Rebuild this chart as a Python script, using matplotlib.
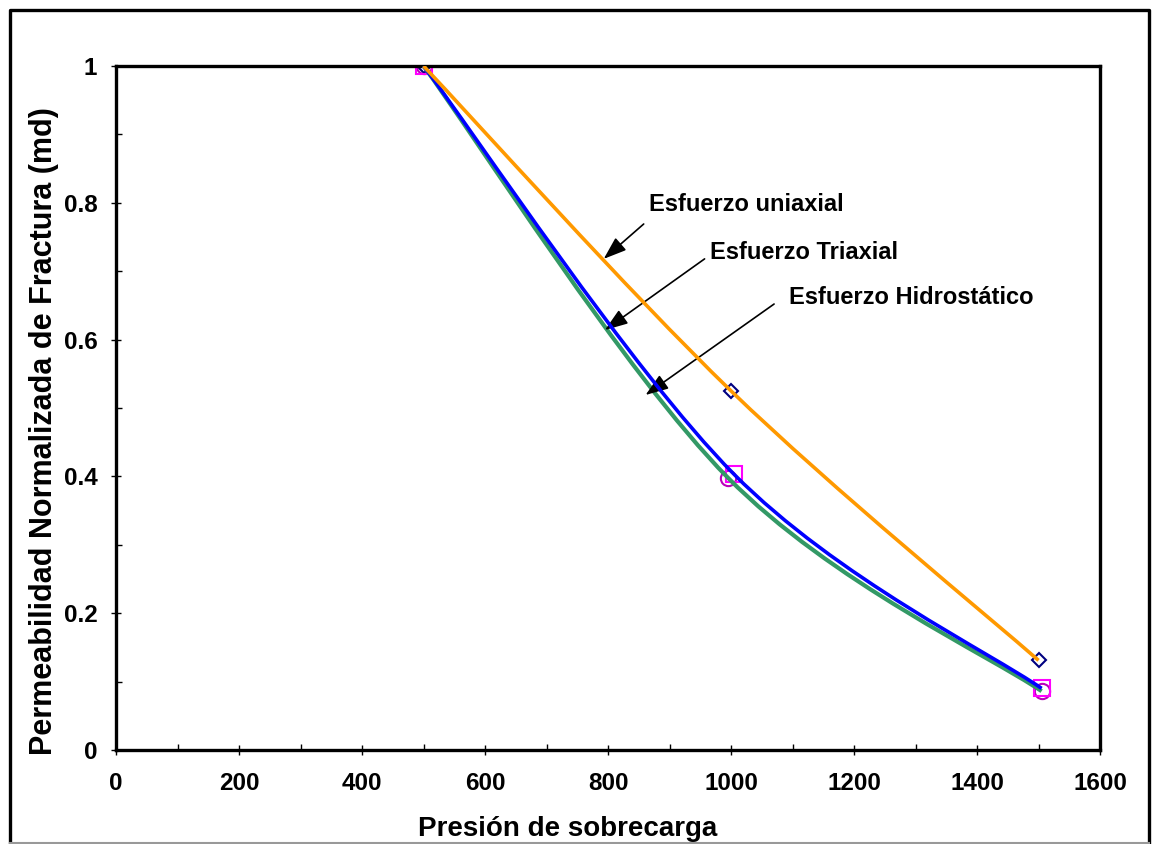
import numpy as np
import matplotlib.pyplot as plt
from matplotlib.path import Path
from matplotlib.patches import PathPatch
from matplotlib.lines import Line2D
from matplotlib.ticker import MultipleLocator, FuncFormatter

plt.rcParams['font.family'] = ['Liberation Sans', 'DejaVu Sans']
plt.rcParams['font.weight'] = 'bold'

# data
uni_x = [500, 1000, 1500]
uni_y = [1.0, 0.525, 0.131]
tri_x = [500, 1005, 1505]
tri_y = [1.0, 0.403, 0.090]
hid_x = [500, 995, 1505]
hid_y = [1.0, 0.398, 0.086]

labels = ["Esfuerzo uniaxial", "Esfuerzo Triaxial", "Esfuerzo Hidrostático"]
label_xy = [(866, 0.797), (965, 0.728), (1095, 0.662)]
arrow_tail = [(858, 0.769), (957, 0.718), (1070, 0.652)]
arrow_head = [(793, 0.718), (795, 0.614), (861, 0.519)]


def smooth_path(xs, ys):
    # excel style smoothed line: cubic bezier, catmull-rom tangents
    pts = np.column_stack([xs, ys]).astype(float)
    n = len(pts)
    verts = [pts[0]]
    codes = [Path.MOVETO]
    for i in range(n - 1):
        p_prev = pts[max(i - 1, 0)]
        p0, p1 = pts[i], pts[i + 1]
        p_next = pts[min(i + 2, n - 1)]
        c1 = p0 + (p1 - p_prev) / 6.0
        c2 = p1 - (p_next - p0) / 6.0
        verts += [c1, c2, p1]
        codes += [Path.CURVE4] * 3
    return Path(verts, codes)


fig = plt.figure(figsize=(11.52, 8.44), dpi=100)
ax = fig.add_axes([0.1007, 0.1114, 0.8542, 0.8104])

# markers first, lines on top
ax.plot(uni_x, uni_y, 'D', ms=7, mfc='none', mec='#000080', mew=1.5, zorder=2)
ax.plot(hid_x, hid_y, 'o', ms=11, mfc='none', mec='#BB00BB', mew=1.5, zorder=2)
ax.plot(tri_x, tri_y, 's', ms=11, mfc='none', mec='#FF00FF', mew=1.5, zorder=2.5)

ax.add_patch(PathPatch(smooth_path(hid_x, hid_y), fc='none', ec='#339966', lw=3, zorder=3))
ax.add_patch(PathPatch(smooth_path(tri_x, tri_y), fc='none', ec='#0000FF', lw=2.6, zorder=3.1))
ax.add_patch(PathPatch(smooth_path(uni_x, uni_y), fc='none', ec='#FF9900', lw=2.6, zorder=3.2))

for txt, xy, tail, head in zip(labels, label_xy, arrow_tail, arrow_head):
    ax.text(xy[0], xy[1], txt, fontsize=17, fontweight='bold', va='center', ha='left')
    ax.annotate('', xy=head, xytext=tail,
                arrowprops=dict(arrowstyle='-|>,head_length=1.4,head_width=0.5',
                                color='black', lw=1.2, shrinkA=0, shrinkB=0))

ax.set_xlim(0, 1600)
ax.set_ylim(0, 1)
ax.xaxis.set_major_locator(MultipleLocator(200))
ax.xaxis.set_minor_locator(MultipleLocator(100))
ax.yaxis.set_major_locator(MultipleLocator(0.2))
ax.yaxis.set_minor_locator(MultipleLocator(0.1))
ax.yaxis.set_major_formatter(FuncFormatter(lambda v, p: f"{v:g}"))

ax.tick_params(which='major', direction='inout', length=7, width=1, labelsize=17.5)
ax.tick_params(axis='x', which='major', pad=12)
ax.tick_params(axis='y', which='major', pad=10)
ax.tick_params(which='minor', direction='in', length=4, width=1)
for lab in ax.get_xticklabels() + ax.get_yticklabels():
    lab.set_fontweight('bold')
for s in ax.spines.values():
    s.set_linewidth(2.4)

ax.set_xlabel("Presión de sobrecarga", fontsize=20, fontweight='bold')
ax.set_ylabel("Permeabilidad Normalizada de Fractura (md)", fontsize=22, fontweight='bold')
ax.xaxis.set_label_coords(0.459, -0.096)
ax.yaxis.set_label_coords(-0.058, 0.466)

# outer chart frame
fig.add_artist(Line2D([10/1152, 10/1152, 1149/1152, 1149/1152],
                      [0.0, 1 - 10/844, 1 - 10/844, 0.0],
                      transform=fig.transFigure, color='black', lw=2.4))
fig.add_artist(Line2D([10/1152, 1149/1152], [0.6/844, 0.6/844],
                      transform=fig.transFigure, color='#999999', lw=1.5))

fig.savefig("out.png", dpi=100)
